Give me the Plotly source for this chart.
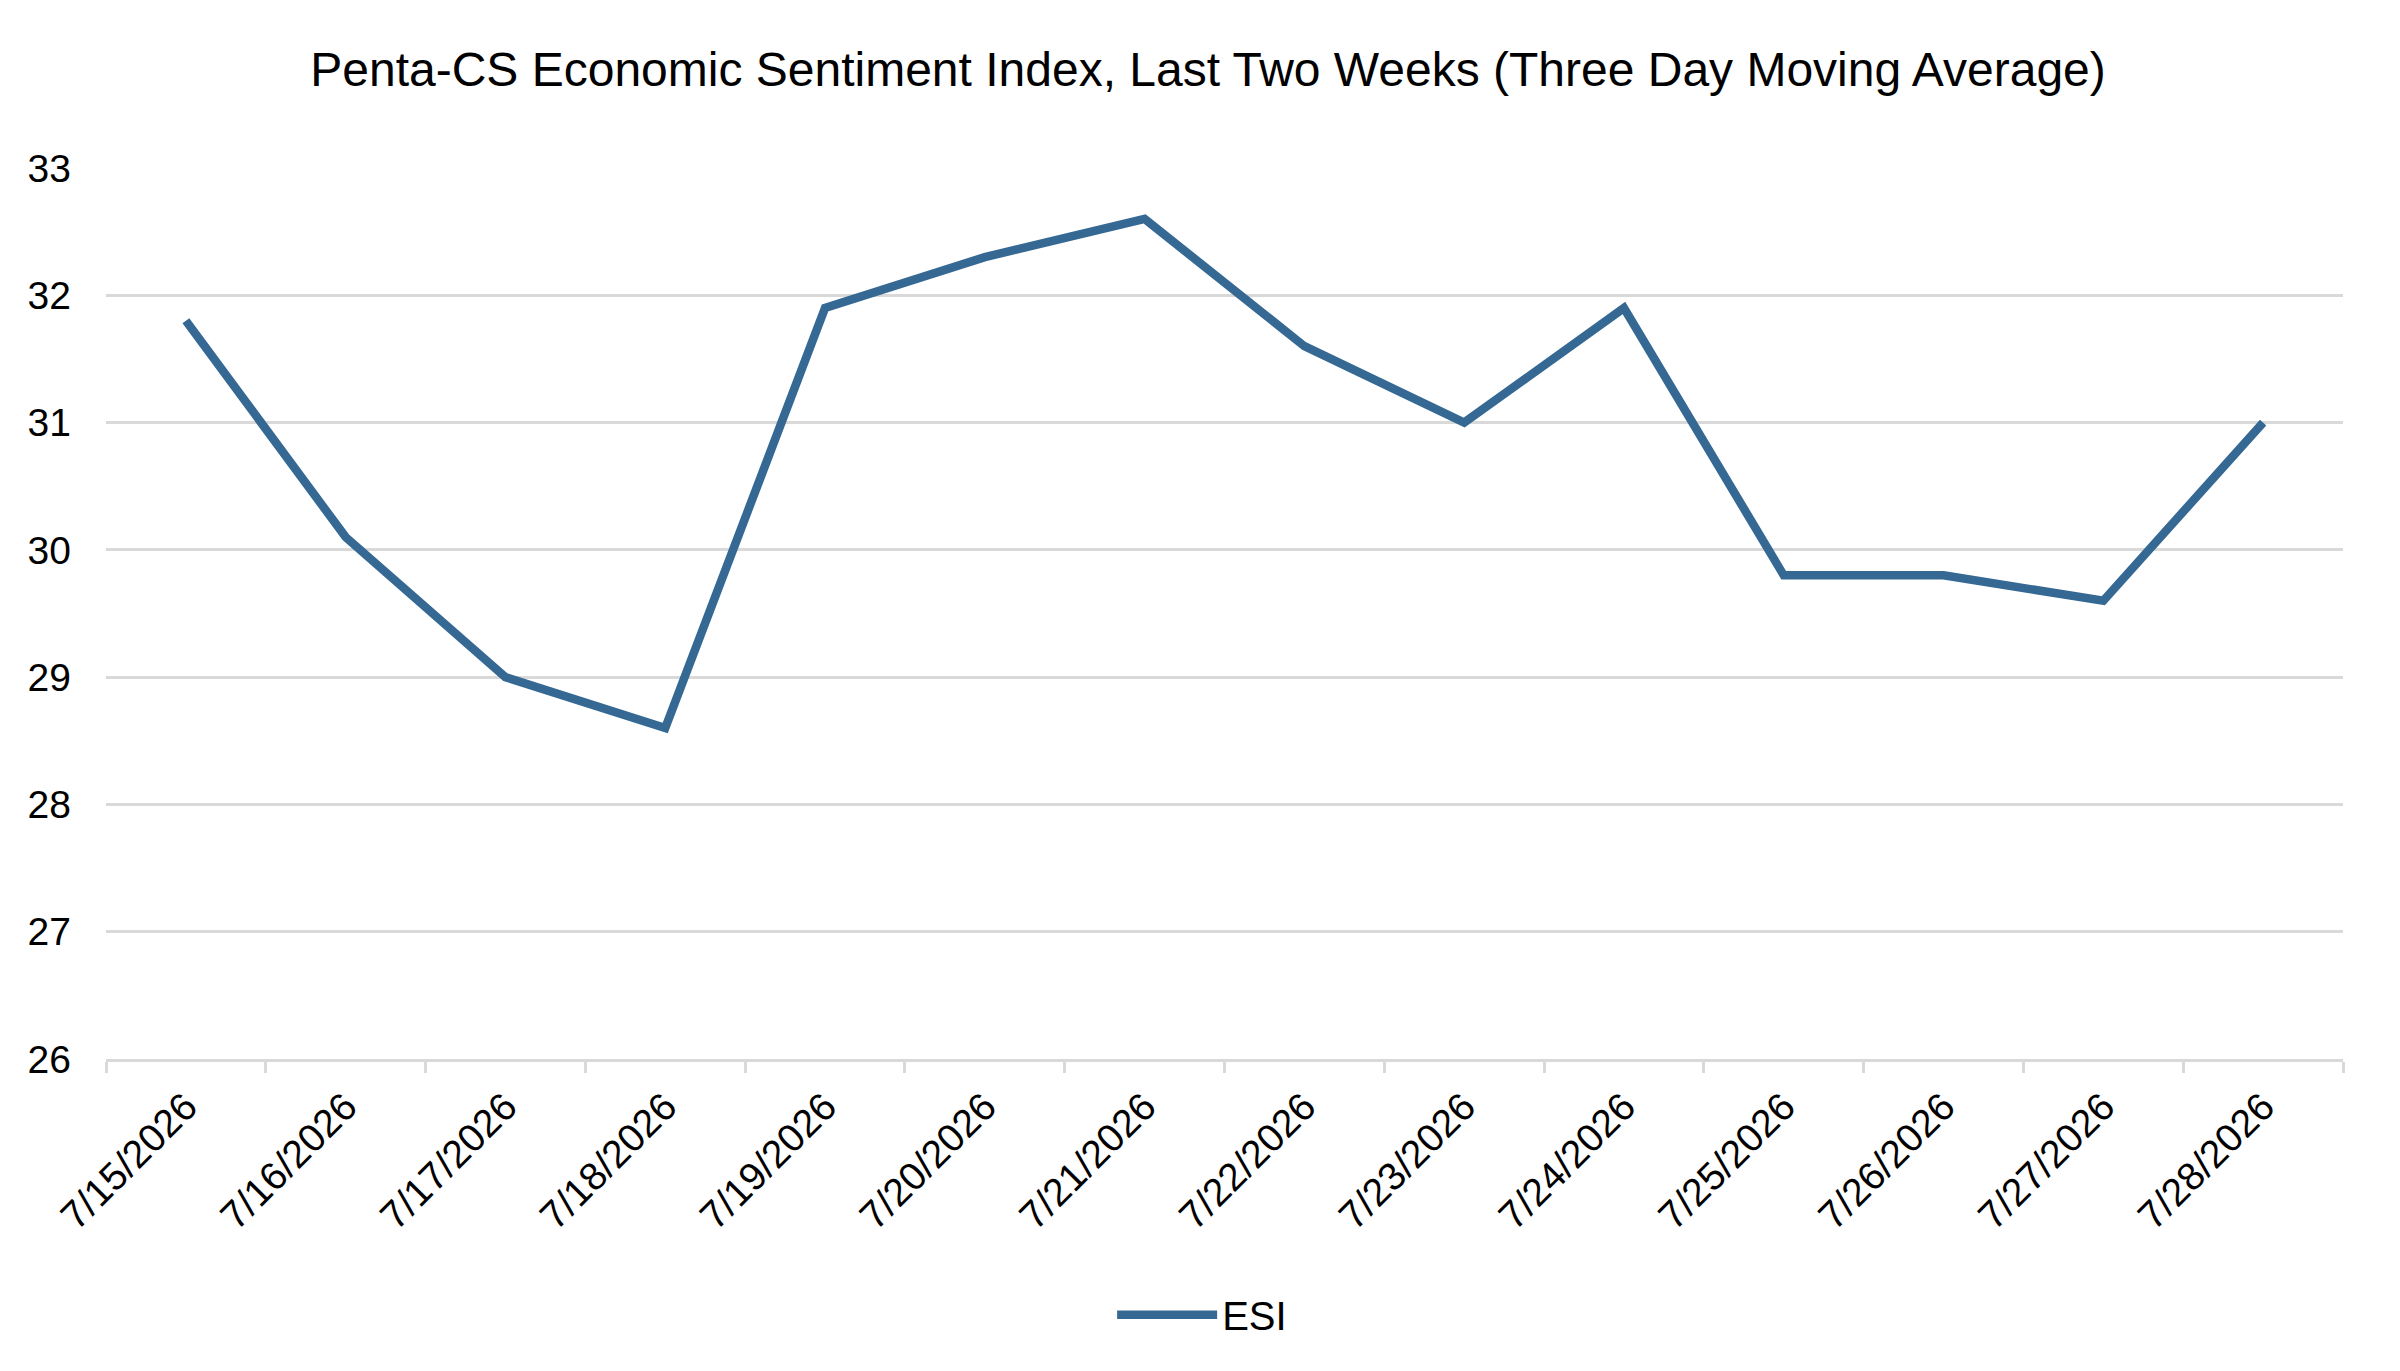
import plotly.graph_objects as go

# Three day moving average of the ESI
dates = ["7/15/2026", "7/16/2026", "7/17/2026", "7/18/2026", "7/19/2026",
         "7/20/2026", "7/21/2026", "7/22/2026", "7/23/2026", "7/24/2026",
         "7/25/2026", "7/26/2026", "7/27/2026", "7/28/2026"]
esi = [31.8, 30.1, 29.0, 28.6, 31.9, 32.3, 32.6, 31.6, 31.0, 31.9,
       29.8, 29.8, 29.6, 31.0]
y_ticks = [26, 27, 28, 29, 30, 31, 32, 33]

LINE_COLOR = "#356893"
GRID_COLOR = "#d9d9d9"
FONT = "Liberation Sans, Arial, sans-serif"

fig = go.Figure()
fig.add_trace(go.Scatter(
    x=dates,
    y=esi,
    mode="lines",
    name="ESI",
    line=dict(color=LINE_COLOR, width=8.5),
))

fig.update_layout(
    width=2400,
    height=1371,
    paper_bgcolor="white",
    plot_bgcolor="white",
    font=dict(family=FONT, size=39, color="black"),
    title=dict(
        text="Penta-CS Economic Sentiment Index, Last Two Weeks (Three Day Moving Average)",
        x=0.5, xanchor="center", xref="container",
        y=0.955, yanchor="middle", yref="container",
        font=dict(family=FONT, size=48, color="black"),
    ),
    margin=dict(l=98, r=65, t=160, b=320),
    showlegend=True,
    legend=dict(
        orientation="h",
        x=0.49, xanchor="center",
        y=-0.287, yanchor="middle",
        itemwidth=100,
        font=dict(family=FONT, size=40, color="black"),
    ),
)

fig.update_xaxes(
    type="category",
    range=[-0.5, len(dates) - 0.5],
    tickson="boundaries",
    ticks="outside",
    ticklen=11,
    tickwidth=3,
    tickcolor=GRID_COLOR,
    showline=True,
    linecolor=GRID_COLOR,
    linewidth=3,
    showgrid=False,
    tickangle=-45,
    ticklabelstandoff=6,
    tickfont=dict(family=FONT, size=39, color="black"),
)
fig.update_yaxes(
    range=[26, 33],
    tickvals=y_ticks,
    showgrid=True,
    gridcolor=GRID_COLOR,
    gridwidth=3,
    zeroline=False,
    showline=False,
    ticks="",
    ticklabelstandoff=34,
    tickfont=dict(family=FONT, size=39, color="black"),
)

fig.write_html("out.html")
